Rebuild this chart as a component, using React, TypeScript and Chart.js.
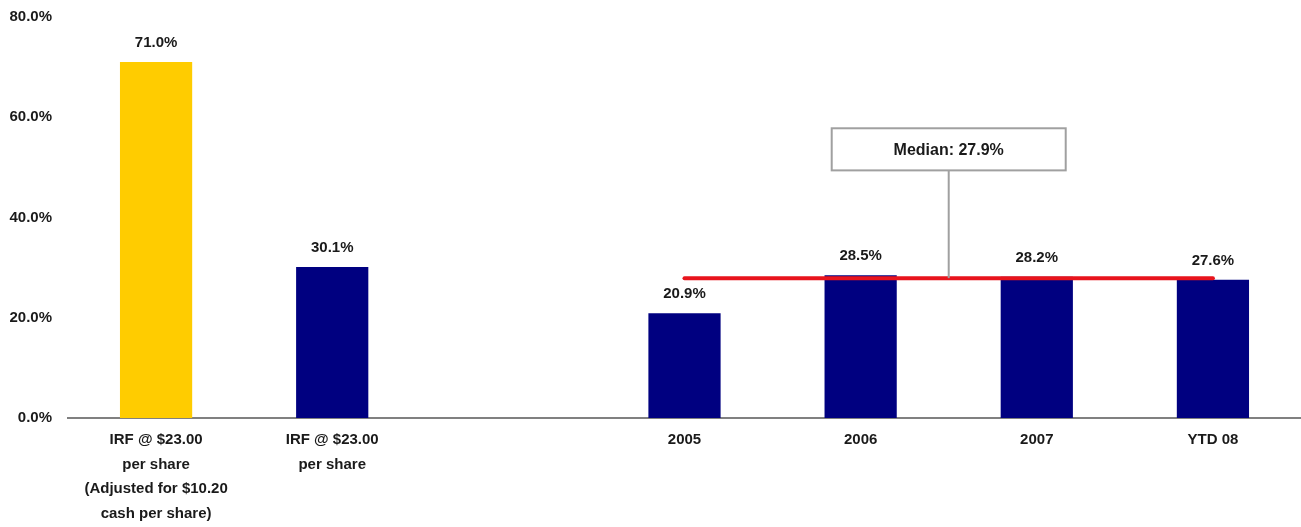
import React, { useEffect, useRef } from "react";
import { Chart, registerables } from "chart.js";

Chart.register(...registerables);

const categories: (string | string[])[] = [
  ["IRF @ $23.00", "per share", "(Adjusted for $10.20", "cash per share)"],
  ["IRF @ $23.00", "per share"],
  "",
  "2005",
  "2006",
  "2007",
  "YTD 08",
];
const values: (number | null)[] = [71.0, 30.1, null, 20.9, 28.5, 28.2, 27.6];
const barColors: string[] = ["#FFCC00", "#000080", "#000080", "#000080", "#000080", "#000080", "#000080"];
const medianValue = 27.9;
const medianLine: (number | null)[] = [null, null, null, medianValue, medianValue, medianValue, medianValue];
const medianLabel = "Median: 27.9%";
const yTicks = [0, 20, 40, 60, 80];

const FONT = "'Liberation Sans', Arial, sans-serif";

const valueLabelPlugin = {
  id: "valueLabels",
  afterDatasetsDraw(chart: any) {
    const ctx = chart.ctx;
    const meta = chart.getDatasetMeta(1);
    ctx.save();
    ctx.font = `bold 15px ${FONT}`;
    ctx.fillStyle = "#1a1a1a";
    ctx.textAlign = "center";
    ctx.textBaseline = "alphabetic";
    meta.data.forEach((el: any, i: number) => {
      const v = values[i];
      if (v == null) return;
      ctx.fillText(v.toFixed(1) + "%", el.x, el.y - 15);
    });
    ctx.restore();
  },
};

const medianBoxPlugin = {
  id: "medianBox",
  afterDatasetsDraw(chart: any) {
    const ctx = chart.ctx;
    const xs = chart.scales.x;
    const ys = chart.scales.y;
    const cx = xs.getPixelForValue(4.5);
    const boxTop = ys.getPixelForValue(57.8);
    const boxBottom = ys.getPixelForValue(49.4);
    const boxW = 234;
    const lineY = ys.getPixelForValue(medianValue);
    ctx.save();
    ctx.strokeStyle = "#a0a0a0";
    ctx.lineWidth = 2;
    ctx.beginPath();
    ctx.moveTo(cx, boxBottom);
    ctx.lineTo(cx, lineY);
    ctx.stroke();
    ctx.fillStyle = "#ffffff";
    ctx.fillRect(cx - boxW / 2, boxTop, boxW, boxBottom - boxTop);
    ctx.strokeRect(cx - boxW / 2, boxTop, boxW, boxBottom - boxTop);
    ctx.font = `bold 16px ${FONT}`;
    ctx.fillStyle = "#1a1a1a";
    ctx.textAlign = "center";
    ctx.textBaseline = "middle";
    ctx.fillText(medianLabel, cx, (boxTop + boxBottom) / 2 + 1);
    ctx.restore();
  },
};

export default function App() {
  const ref = useRef<HTMLCanvasElement | null>(null);
  useEffect(() => {
    if (!ref.current) return;
    const chart = new Chart(ref.current, {
      type: "bar",
      data: {
        labels: categories as any,
        datasets: [
          {
            type: "line",
            data: medianLine,
            borderColor: "#E8141C",
            borderWidth: 4,
            borderCapStyle: "round",
            pointRadius: 0,
            fill: false,
            spanGaps: false,
            order: 0,
          } as any,
          {
            type: "bar",
            data: values,
            backgroundColor: barColors,
            borderWidth: 0,
            categoryPercentage: 1,
            barPercentage: 0.41,
            order: 1,
          } as any,
        ],
      },
      options: {
        animation: false,
        responsive: true,
        maintainAspectRatio: false,
        layout: { padding: { top: 17, left: 0, right: 0, bottom: 0 } },
        plugins: { legend: { display: false }, tooltip: { enabled: false } },
        scales: {
          x: {
            grid: { display: false, drawTicks: false },
            border: { display: true, color: "#808080", width: 2 },
            ticks: {
              autoSkip: false,
              maxRotation: 0,
              padding: 10,
              color: "#1a1a1a",
              font: { family: FONT, size: 15, weight: "bold", lineHeight: 1.63 },
            },
            afterFit(scale: any) {
              scale.height = 109;
            },
          },
          y: {
            min: 0,
            max: 80,
            afterBuildTicks(scale: any) {
              scale.ticks = yTicks.map((v) => ({ value: v }));
            },
            grid: { display: false, drawTicks: false },
            border: { display: false },
            ticks: {
              padding: 16,
              color: "#1a1a1a",
              font: { family: FONT, size: 15, weight: "bold" },
              callback: (v: any) => Number(v).toFixed(1) + "%",
            },
            afterFit(scale: any) {
              scale.width = 68;
              scale.paddingTop = 0;
              scale.paddingBottom = 0;
            },
          },
        },
      },
      plugins: [valueLabelPlugin, medianBoxPlugin],
    });
    return () => chart.destroy();
  }, []);
  return (
    <div style={{ position: "absolute", left: 0, top: 0, width: 1301, height: 527, background: "#fff" }}>
      <canvas ref={ref} />
    </div>
  );
}
